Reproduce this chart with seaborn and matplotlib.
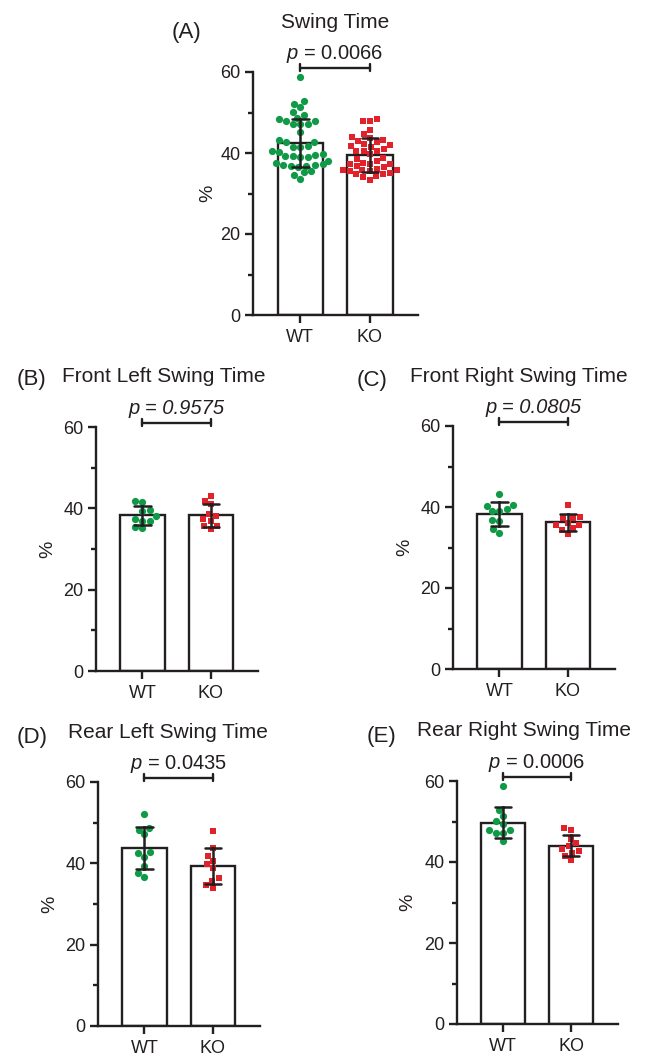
import matplotlib
matplotlib.use("Agg")
import matplotlib.pyplot as plt
import numpy as np
import pandas as pd
import seaborn as sns

# values (% swing time per animal)
groups = ["WT", "KO"]

fl_wt = [41.6, 41.8, 39.7, 39.3, 38.0, 37.0, 37.0, 37.4, 35.2, 35.5]
fl_ko = [43.0, 41.9, 41.0, 38.6, 37.4, 38.0, 36.8, 35.7, 35.7, 35.0]
fr_wt = [43.1, 40.4, 40.2, 38.9, 39.5, 38.9, 36.5, 36.9, 34.5, 33.6]
fr_ko = [40.4, 37.6, 37.4, 37.3, 36.1, 35.5, 35.5, 34.7, 33.4, 34.3]
rl_wt = [52.2, 48.7, 48.3, 47.2, 42.8, 42.6, 41.6, 39.3, 37.6, 36.7]
rl_ko = [47.9, 43.8, 41.8, 39.8, 40.6, 38.8, 36.5, 35.7, 34.0, 34.7]
rr_wt = [58.7, 52.8, 51.3, 50.2, 49.4, 47.9, 47.1, 47.1, 47.9, 45.1]
rr_ko = [48.4, 47.9, 45.8, 44.6, 43.9, 42.6, 43.1, 42.3, 40.6, 41.5]

# panel A pools all four paws
all_wt = fl_wt + fr_wt + rl_wt + rr_wt
all_ko = fl_ko + fr_ko + rl_ko + rr_ko

letters = ["(A)", "(B)", "(C)", "(D)", "(E)"]
titles = ["Swing Time", "Front Left Swing Time", "Front Right Swing Time",
          "Rear Left Swing Time", "Rear Right Swing Time"]
p_values = ["0.0066", "0.9575", "0.0805", "0.0435", "0.0006"]
p_all_italic = [False, True, True, False, False]
panel_data = [(all_wt, all_ko), (fl_wt, fl_ko), (fr_wt, fr_ko),
              (rl_wt, rl_ko), (rr_wt, rr_ko)]

W, H = 650, 1056
GREEN = "#0f9a47"
RED = "#e2222a"
INK = "#231f20"

sns.set_style("ticks")
plt.rcParams["font.family"] = ["Liberation Sans", "DejaVu Sans"]
plt.rcParams["mathtext.fontset"] = "custom"
plt.rcParams["mathtext.it"] = "Liberation Sans:italic"
plt.rcParams["mathtext.rm"] = "Liberation Sans"

# layout in pixels: axes (left, top, right, bottom), letter (x, baseline),
# title (x, baseline, ha), "%" label x
layout = [
    dict(ax=(253, 72, 418, 315), letter=(172, 38), title=(335, 28, "center"), ylab=208),
    dict(ax=(96, 427, 258, 671), letter=(17, 385), title=(62, 382, "left"), ylab=48),
    dict(ax=(453, 426, 615, 669), letter=(357, 386), title=(410, 382, "left"), ylab=405),
    dict(ax=(98, 782, 260, 1026), letter=(17, 743), title=(68, 738, "left"), ylab=50),
    dict(ax=(457, 781, 618, 1024), letter=(367, 742), title=(417, 736, "left"), ylab=408),
]

fig = plt.figure(figsize=(W / 100, H / 100), dpi=100)


def draw_panel(i):
    wt, ko = panel_data[i]
    lay = layout[i]
    l, t, r, b = lay["ax"]
    ax = fig.add_axes([l / W, 1 - b / H, (r - l) / W, (b - t) / H])

    df = pd.DataFrame({"group": ["WT"] * len(wt) + ["KO"] * len(ko),
                       "value": wt + ko})
    sns.barplot(data=df, x="group", y="value", order=groups, errorbar="sd",
                capsize=0.24, width=0.65, color="white", edgecolor=INK,
                linewidth=1.7, err_kws={"color": INK, "linewidth": 1.8}, ax=ax)
    for bar in ax.patches:
        bar.set_facecolor("white")
        bar.set_zorder(1)
    for line in ax.lines:
        line.set_zorder(10)

    sns.swarmplot(data=df[df.group == "WT"], x="group", y="value", order=groups,
                  color=GREEN, marker="o", size=5.2, ax=ax, zorder=5)
    sns.swarmplot(data=df[df.group == "KO"], x="group", y="value", order=groups,
                  color=RED, marker="s", size=5.0, ax=ax, zorder=5)

    ax.set_xlim(-0.68, 1.69)
    ax.set_ylim(0, 60)
    ax.set_yticks([0, 20, 40, 60])
    ax.set_yticks([10, 30, 50], minor=True)
    ax.set_xlabel("")
    ax.set_ylabel("")
    sns.despine(ax=ax)
    for s in ["left", "bottom"]:
        ax.spines[s].set_linewidth(1.7)
        ax.spines[s].set_color(INK)
    ax.tick_params(which="major", length=6, width=1.7, color=INK,
                   labelsize=13, labelcolor=INK)
    ax.tick_params(which="minor", axis="y", length=3.5, width=1.7, color=INK)
    ax.tick_params(axis="y", pad=3)
    ax.tick_params(axis="x", pad=4)

    # significance bracket
    ax.plot([0, 1], [61.1, 61.1], color=INK, lw=1.7, clip_on=False)
    for xx in (0, 1):
        ax.plot([xx, xx], [60.2, 62.0], color=INK, lw=1.7, clip_on=False)
    if p_all_italic[i]:
        ax.text(0.5, 63.2, f"p = {p_values[i]}", ha="center", va="baseline",
                fontsize=14.5, style="italic", color=INK)
    else:
        ax.text(0.5, 63.2, r"$p$" + f" = {p_values[i]}", ha="center",
                va="baseline", fontsize=14.5, color=INK)

    lx, ly = lay["letter"]
    fig.text(lx / W, 1 - ly / H, letters[i], fontsize=16, va="baseline",
             ha="left", color=INK)
    tx, ty, ha = lay["title"]
    fig.text(tx / W, 1 - ty / H, titles[i], fontsize=15, va="baseline",
             ha=ha, color=INK)
    fig.text(lay["ylab"] / W, 1 - ((t + b) / 2) / H, "%", fontsize=14,
             rotation=90, ha="center", va="center", color=INK)


for i in range(5):
    draw_panel(i)

fig.savefig("out.png", dpi=100, facecolor="white")
